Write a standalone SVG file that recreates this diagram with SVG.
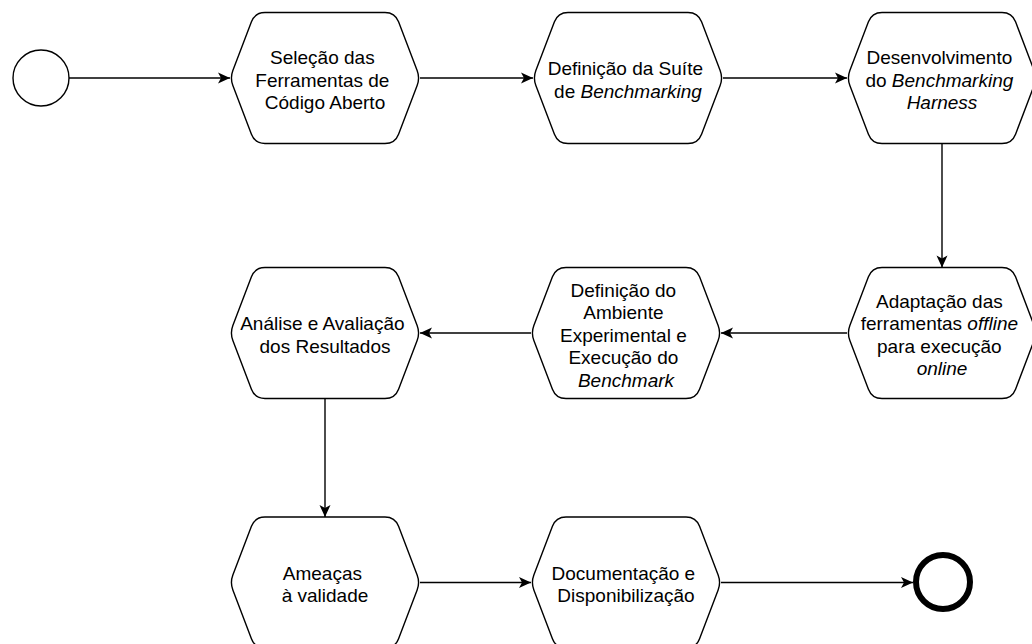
<svg xmlns="http://www.w3.org/2000/svg" xmlns:xlink="http://www.w3.org/1999/xlink" width="1032" height="644" viewBox="0 0 1032 644">
  <style>
    .hex { fill: #ffffff; stroke: #000000; stroke-width: 1.4; }
    .lbl { font-family: "Liberation Sans", Arial, Helvetica, sans-serif; font-size: 19px; fill: #000000; text-anchor: middle; }
    .it { font-style: italic; }
    .edge { fill: none; stroke: #000000; stroke-width: 1.4; marker-end: url(#arrow); }
    .start { fill: #ffffff; stroke: #000000; stroke-width: 1.4; }
    .end { fill: #ffffff; stroke: #000000; stroke-width: 6; }
  </style>
  <defs>
    <!-- rounded hexagon, 190 x 131 -->
    <path id="hexShape" class="hex" d="M2.86,58.03 L21.43,9.34 Q25,0 35,0 L155,0 Q165,0 168.57,9.34 L187.14,58.03 Q190,65.5 187.14,72.97 L168.57,121.66 Q165,131 155,131 L35,131 Q25,131 21.43,121.66 L2.86,72.97 Q0,65.5 2.86,58.03 Z"/>
    <marker id="arrow" markerUnits="userSpaceOnUse" markerWidth="16" markerHeight="16" viewBox="-14 -8 16 16" refX="0" refY="0" orient="auto">
      <path d="M0,0 L-12,-5.5 L-9,0 L-12,5.5 Z" fill="#000000"/>
    </marker>
  </defs>

  <g id="connectors">
    <path class="edge" d="M69,78 H230"/>
    <path class="edge" d="M420,78 H533"/>
    <path class="edge" d="M723,78 H847"/>
    <path class="edge" d="M942,143.5 V267.5"/>
    <path class="edge" d="M847,333 H721"/>
    <path class="edge" d="M531,333 H420"/>
    <path class="edge" d="M325,398.5 V517"/>
    <path class="edge" d="M420,582.5 H531"/>
    <path class="edge" d="M721,582.5 H913"/>
  </g>

  <g id="start">
    <circle class="start" cx="41" cy="78" r="28"/>
  </g>

  <g id="selecao">
    <use xlink:href="#hexShape" x="230" y="12.5"/>
    <text class="lbl">
      <tspan x="325" y="64">Seleção das</tspan>
      <tspan x="325" y="86.5">Ferramentas de</tspan>
      <tspan x="325" y="109">Código Aberto</tspan>
    </text>
  </g>

  <g id="definicao-suite">
    <use xlink:href="#hexShape" x="533" y="12.5"/>
    <text class="lbl">
      <tspan x="628" y="75.25">Definição da Suíte</tspan>
      <tspan x="628" y="97.75">de <tspan class="it">Benchmarking</tspan></tspan>
    </text>
  </g>

  <g id="desenvolvimento">
    <use xlink:href="#hexShape" x="847" y="12.5"/>
    <text class="lbl">
      <tspan x="942" y="64">Desenvolvimento</tspan>
      <tspan x="942" y="86.5">do <tspan class="it">Benchmarking</tspan></tspan>
      <tspan x="942" y="109" class="it">Harness</tspan>
    </text>
  </g>

  <g id="adaptacao">
    <use xlink:href="#hexShape" x="847" y="267.5"/>
    <text class="lbl">
      <tspan x="942" y="307.75">Adaptação das</tspan>
      <tspan x="942" y="330.25">ferramentas <tspan class="it">offline</tspan></tspan>
      <tspan x="942" y="352.75">para execução</tspan>
      <tspan x="942" y="375.25" class="it">online</tspan>
    </text>
  </g>

  <g id="ambiente">
    <use xlink:href="#hexShape" x="531" y="267.5"/>
    <text class="lbl">
      <tspan x="626" y="296.5">Definição do</tspan>
      <tspan x="626" y="319">Ambiente</tspan>
      <tspan x="626" y="341.5">Experimental e</tspan>
      <tspan x="626" y="364">Execução do</tspan>
      <tspan x="626" y="386.5" class="it">Benchmark</tspan>
    </text>
  </g>

  <g id="analise">
    <use xlink:href="#hexShape" x="230" y="267.5"/>
    <text class="lbl">
      <tspan x="325" y="330.25">Análise e Avaliação</tspan>
      <tspan x="325" y="352.75">dos Resultados</tspan>
    </text>
  </g>

  <g id="ameacas">
    <use xlink:href="#hexShape" x="230" y="517"/>
    <text class="lbl">
      <tspan x="325" y="579.75">Ameaças</tspan>
      <tspan x="325" y="602.25">à validade</tspan>
    </text>
  </g>

  <g id="documentacao">
    <use xlink:href="#hexShape" x="531" y="517"/>
    <text class="lbl">
      <tspan x="626" y="579.75">Documentação e</tspan>
      <tspan x="626" y="602.25">Disponibilização</tspan>
    </text>
  </g>

  <g id="end">
    <circle class="end" cx="943" cy="582" r="27"/>
  </g>
</svg>
